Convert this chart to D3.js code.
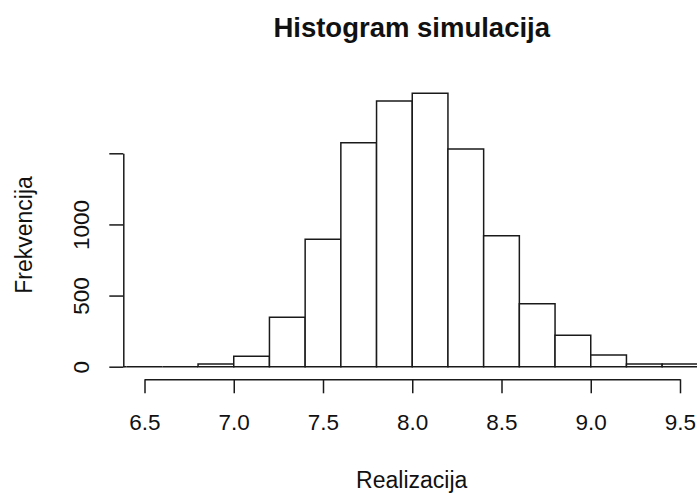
<!DOCTYPE html>
<html>
<head>
<meta charset="utf-8">
<script src="https://cdn.jsdelivr.net/npm/d3@7"></script>
<style>
  html, body { margin: 0; padding: 0; background: #fff; }
  svg { display: block; }
  text { font-family: "Liberation Sans", Arial, sans-serif; fill: #111; }
</style>
</head>
<body>
<svg id="chart" width="697" height="494"></svg>
<script>
// ---- data ----
const binStarts = [6.2, 6.4, 6.6, 6.8, 7.0, 7.2, 7.4, 7.6, 7.8, 8.0, 8.2, 8.4, 8.6, 8.8, 9.0, 9.2, 9.4, 9.6];
const binWidth = 0.2;
const counts    = [0,   0,   0,   19,  73,  347, 896, 1575, 1868, 1922, 1531, 921, 443, 221, 82, 19, 19, 6];
const xTicks = [6.5, 7.0, 7.5, 8.0, 8.5, 9.0, 9.5];
const yTicks = [0, 500, 1000, 1500];
const yTickLabels = ["0", "500", "1000", ""];
const titleText = "Histogram simulacija";
const xLabel = "Realizacija";
const yLabel = "Frekvencija";

const W = 697, H = 494;
const svg = d3.select("#chart");

const x = d3.scaleLinear().domain([6.5, 9.5]).range([144.5, 680]);
const y = d3.scaleLinear().domain([0, 1500]).range([366.7, 153.3]);

const plotLeft = 123.3, plotTop = 88, plotBottom = 379.3;

svg.append("defs").append("clipPath").attr("id", "plotclip")
  .append("rect").attr("x", plotLeft).attr("y", plotTop)
  .attr("width", W - plotLeft).attr("height", plotBottom - plotTop);

const bars = binStarts.map((s, i) => ({x0: s, x1: s + binWidth, n: counts[i]}));

svg.append("g").attr("clip-path", "url(#plotclip)")
  .selectAll("path").data(bars).join("path")
  .attr("d", d => {
    const p = d3.path();
    p.moveTo(x(d.x0), y(0));
    p.lineTo(x(d.x0), y(d.n));
    p.lineTo(x(d.x1), y(d.n));
    p.lineTo(x(d.x1), y(0));
    p.closePath();
    return p.toString();
  })
  .attr("fill", "#fff")
  .attr("stroke", "#1a1a1a")
  .attr("stroke-width", 1.5);

// x axis
const gx = svg.append("g").attr("transform", `translate(0,${plotBottom})`)
  .call(d3.axisBottom(x).tickValues(xTicks).tickFormat(d3.format(".1f"))
        .tickSizeOuter(0).tickSizeInner(14).tickPadding(22));
gx.selectAll("path, line").attr("stroke", "#1a1a1a").attr("stroke-width", 1.5);
gx.selectAll("text").attr("font-size", 22.5).attr("fill", "#111")
  .attr("font-family", "Liberation Sans, Arial, sans-serif")
  .attr("dy", null).attr("y", 51);

// y axis
const gy = svg.append("g").attr("transform", `translate(${plotLeft},0)`)
  .call(d3.axisLeft(y).tickValues(yTicks).tickFormat((d, i) => yTickLabels[i])
        .tickSizeOuter(0).tickSizeInner(14));
gy.selectAll("path, line").attr("stroke", "#1a1a1a").attr("stroke-width", 1.5);
gy.selectAll("text").attr("font-size", 22.5).attr("fill", "#111")
  .attr("font-family", "Liberation Sans, Arial, sans-serif")
  .attr("transform", "rotate(-90)")
  .attr("text-anchor", "middle")
  .attr("x", 0).attr("y", -34).attr("dy", null);

// titles
svg.append("text").attr("x", 411.7).attr("y", 36.5)
  .attr("text-anchor", "middle").attr("font-size", 27.5).attr("font-weight", "bold")
  .text(titleText);

svg.append("text").attr("x", 411.7).attr("y", 488.3)
  .attr("text-anchor", "middle").attr("font-size", 23)
  .text(xLabel);

svg.append("text").attr("transform", `translate(32,235) rotate(-90)`)
  .attr("text-anchor", "middle").attr("font-size", 23)
  .text(yLabel);
</script>
</body>
</html>
